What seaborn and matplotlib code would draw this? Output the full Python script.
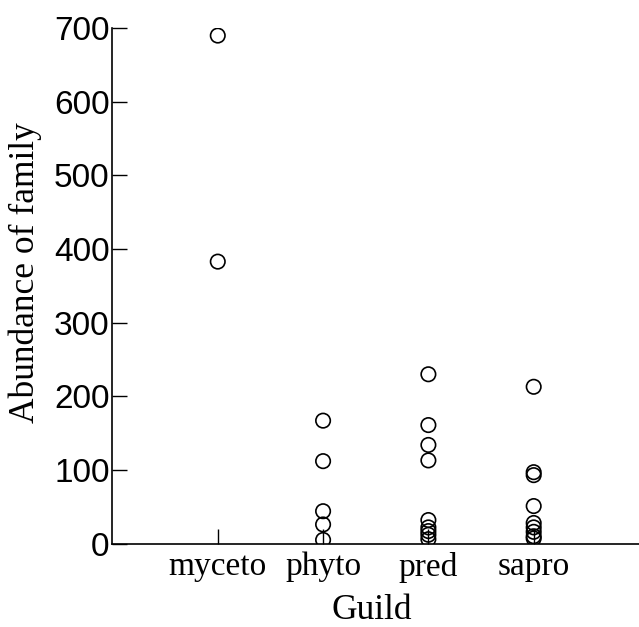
import matplotlib
matplotlib.use('Agg')
import matplotlib.pyplot as plt
import pandas as pd
import seaborn as sns

# valores
guilds = ['myceto', 'phyto', 'pred', 'sapro']
myceto = [690, 383]
phyto = [167, 112, 44, 26, 5]
pred = [230, 161, 134, 113, 32, 22, 17, 12, 6]
sapro = [213, 97, 93, 51, 28, 22, 16, 10, 7]
y_ticks = [0, 100, 200, 300, 400, 500, 600, 700]

rows = []
for g, vals in zip(guilds, [myceto, phyto, pred, sapro]):
    for v in vals:
        rows.append({'Guild': g, 'Abundance': v})
df = pd.DataFrame(rows)

sns.set_style('ticks')
plt.rcParams.update({'text.color': 'black', 'axes.labelcolor': 'black',
                     'xtick.color': 'black', 'ytick.color': 'black',
                     'axes.edgecolor': 'black'})
serif = ['Liberation Serif', 'DejaVu Serif']
sans = ['Liberation Sans', 'DejaVu Sans']

fig = plt.figure(figsize=(6.39, 6.27), dpi=100)
ax = fig.add_axes([0.176, 0.133, 0.824, 0.822])

sns.stripplot(data=df, x='Guild', y='Abundance', order=guilds, jitter=False,
              color='black', size=10.4, linewidth=1.2, ax=ax)
# circulos vacios
for coll in ax.collections:
    coll.set_facecolor('none')
    coll.set_edgecolor('black')
    coll.set_linewidth(1.2)

ax.set_xlim(-1, 4)
ax.set_ylim(0, 700)
ax.set_yticks(y_ticks)
ax.set_yticklabels([str(t) for t in y_ticks], family=sans, fontsize=24)
ax.set_xticks(range(len(guilds)))
ax.set_xticklabels(guilds, family=serif, fontsize=24)

ax.tick_params(axis='both', direction='in', length=11, width=1.0, color='black',
               labelcolor='black')
ax.tick_params(axis='y', pad=2)
ax.tick_params(axis='x', pad=6)

sns.despine(ax=ax)
for s in ['left', 'bottom']:
    ax.spines[s].set_linewidth(1.2)
    ax.spines[s].set_color('black')

ax.set_xlabel('Guild', family=serif, fontsize=25.5, color='black')
ax.set_ylabel('Abundance of family', family=serif, fontsize=25.5, color='black')
ax.xaxis.set_label_coords(0.493, -0.098)
ax.yaxis.set_label_coords(-0.133, 0.525)

fig.savefig('out.png', dpi=100, facecolor='white')
